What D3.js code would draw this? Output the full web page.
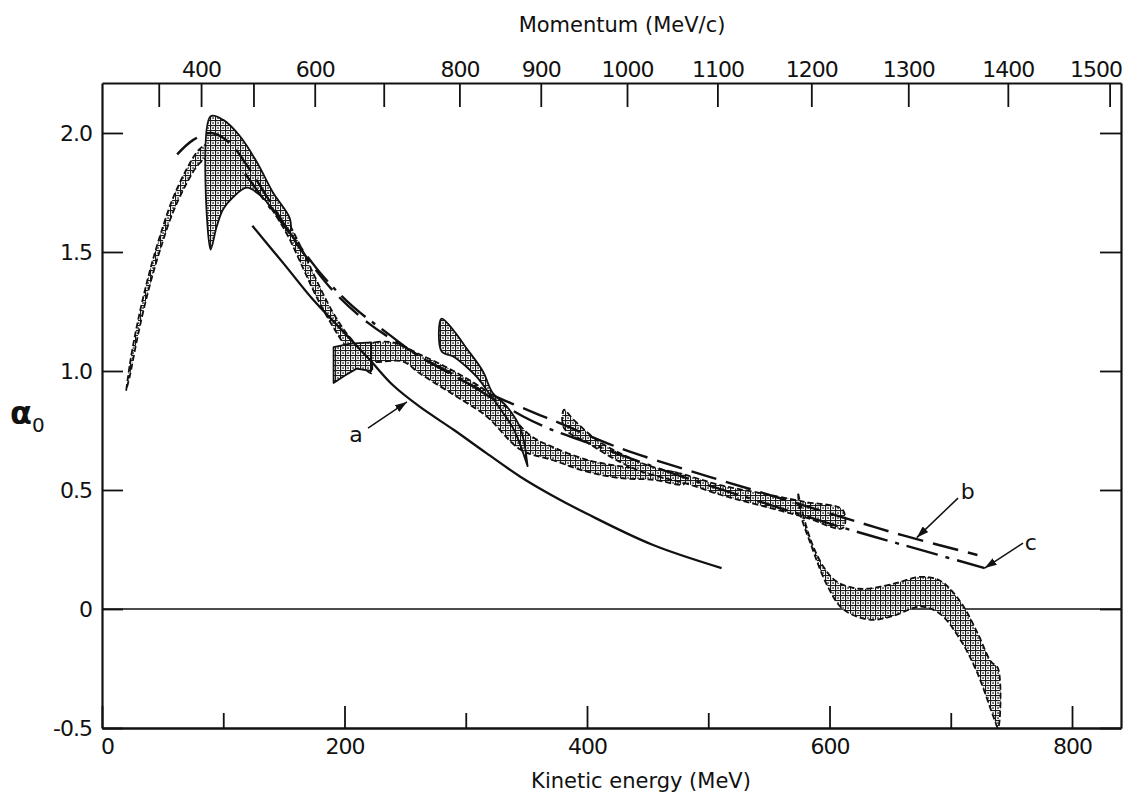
<!DOCTYPE html>
<html>
<head>
<meta charset="utf-8">
<script src="https://cdn.jsdelivr.net/npm/d3@7"></script>
<style>
  body { margin: 0; background: #fff; }
  svg text { font-family: "DejaVu Sans", sans-serif; fill: #111; }
</style>
</head>
<body>
<svg id="chart" width="1132" height="796"></svg>
<script>
// axis ticks
const energyMajor = [0, 200, 400, 600, 800];
const energyMinor = [100, 300, 500, 700];
const momentumTicks = [300, 400, 500, 600, 700, 800, 900, 1000, 1100, 1200, 1300, 1400, 1500];
const momentumLabels = [400, 600, 800, 900, 1000, 1100, 1200, 1300, 1400, 1500];
const alphaTicks = [-0.5, 0, 0.5, 1.0, 1.5, 2.0];
const alphaLabels = ["-0.5", "0", "0.5", "1.0", "1.5", "2.0"];

// curves [kinetic energy MeV, alpha0]
const curveA = [[124, 1.61], [150, 1.45], [174, 1.30], [200, 1.16], [221, 1.046], [240, 0.94],
  [262, 0.85], [290, 0.753], [317, 0.655], [345, 0.556], [372, 0.475], [400, 0.40], [454, 0.27],
  [511, 0.172]];
const curveB = [[62, 1.91], [75, 1.97], [90, 2.0], [105, 1.96], [120, 1.86], [140, 1.70], [160, 1.54],
  [190, 1.34], [220, 1.20], [250, 1.10], [290, 0.98], [317, 0.91], [342, 0.855], [361, 0.815], [378, 0.78],
  [425, 0.68], [482, 0.585], [537, 0.50], [611, 0.385], [660, 0.31], [722, 0.227]];
const curveC = [[118, 1.83], [135, 1.71], [155, 1.58], [182, 1.40], [207, 1.27], [235, 1.16], [262, 1.06],
  [290, 0.985], [322, 0.885], [347, 0.81], [370, 0.755], [400, 0.70], [440, 0.625], [482, 0.55], [537, 0.46],
  [609, 0.345], [660, 0.27], [728, 0.172]];

// error bands: upper edge and lower edge, both by increasing energy
const band1Upper = [[20, 0.92], [23, 1.03], [28, 1.17], [34, 1.31], [41, 1.45], [48, 1.57], [58, 1.72],
  [70, 1.85], [80, 1.93], [89, 1.96], [100, 1.955], [110, 1.92], [120, 1.87], [136, 1.76], [152, 1.64],
  [166, 1.50], [177, 1.38], [190, 1.25], [200, 1.17], [213, 1.09], [222, 1.04]];
const band1Lower = [[20, 0.92], [23, 0.98], [28, 1.11], [34, 1.25], [41, 1.39], [48, 1.51], [58, 1.66],
  [70, 1.79], [80, 1.87], [89, 1.90], [100, 1.89], [110, 1.86], [120, 1.82], [136, 1.71], [152, 1.58],
  [166, 1.43], [177, 1.31], [190, 1.19], [200, 1.11], [213, 1.03], [222, 0.99]];
const hornUpper = [[89.6, 2.07], [100, 2.055], [114, 1.985], [128, 1.875], [141, 1.75], [155, 1.64]];
const hornLower = [[89.6, 1.51], [94.6, 1.607], [100, 1.68], [108, 1.73], [119.5, 1.77], [130, 1.74],
  [141, 1.68], [155, 1.59]];
const wedgeUpper = [[191, 1.10], [205, 1.115], [222, 1.12]];
const wedgeLower = [[191, 0.95], [200, 0.98], [210, 1.01], [222, 1.00]];
const band4Upper = [[213, 1.10], [225, 1.12], [240, 1.12], [262, 1.07], [290, 1.0], [317, 0.915],
  [331, 0.85], [353, 0.73], [372, 0.68], [400, 0.627], [427, 0.60], [455, 0.585], [480, 0.56]];
const band4Lower = [[213, 1.07], [221, 1.04], [248, 1.04], [262, 0.99], [290, 0.90], [317, 0.81],
  [345, 0.67], [372, 0.625], [400, 0.577], [427, 0.55], [455, 0.543], [480, 0.525]];
const band5Upper = [[280, 1.22], [290, 1.17], [300, 1.10], [314, 1.0], [322, 0.91], [334, 0.85],
  [345, 0.76], [351, 0.60]];
const band5Lower = [[280, 1.083], [290, 1.06], [300, 1.02], [310, 0.97], [320, 0.90], [330, 0.83],
  [340, 0.75], [351, 0.60]];
const band6Upper = [[381, 0.837], [389, 0.795], [408, 0.71], [427, 0.655], [452, 0.60], [480, 0.565],
  [510, 0.52], [543, 0.487], [580, 0.45], [611, 0.416]];
const band6Lower = [[381, 0.76], [400, 0.70], [421, 0.635], [441, 0.585], [460, 0.555], [480, 0.53],
  [510, 0.48], [543, 0.435], [580, 0.385], [611, 0.34]];
const band7Upper = [[574, 0.49], [578, 0.40], [586, 0.27], [596, 0.17], [606, 0.115], [625, 0.085],
  [652, 0.105], [675, 0.135], [691, 0.12], [708, 0.03], [722, -0.10], [733, -0.22], [739, -0.25]];
const band7Lower = [[574, 0.49], [576, 0.40], [584, 0.28], [598, 0.10], [611, 0.0], [633, -0.045],
  [652, -0.03], [675, 0.01], [691, -0.02], [708, -0.13], [722, -0.27], [735, -0.45], [739, -0.5]];

// curve labels: [label, text position, arrow tail, arrow tip]
const curveLabels = [
  ["a", [209.5, 0.735], [219.4, 0.76], [251.5, 0.87]],
  ["b", [714, 0.496], [706, 0.466], [672, 0.30]],
  ["c", [766, 0.28], [759.6, 0.277], [728, 0.172]],
];

const protonMass = 938.27;
const kineticFromMomentum = p => Math.sqrt(p * p + protonMass * protonMass) - protonMass;

const svg = d3.select("#chart");
const x = d3.scaleLinear().domain([0, 840.4]).range([102, 1121]);
const y = d3.scaleLinear().domain([-0.5, 2.21]).range([728, 83]);

// stipple fill for the bands: small white cells, dark rims, a dot in each
const defs = svg.append("defs");
const pat = defs.append("pattern").attr("id", "stipple").attr("patternUnits", "userSpaceOnUse")
  .attr("width", 5).attr("height", 5);
pat.append("rect").attr("width", 5).attr("height", 5).attr("fill", "#fff");
pat.append("rect").attr("width", 5).attr("height", 1.1).attr("fill", "#1a1a1a");
pat.append("rect").attr("width", 1.1).attr("height", 5).attr("fill", "#1a1a1a");
pat.append("rect").attr("x", 2.3).attr("y", 2.3).attr("width", 1.5).attr("height", 1.5).attr("fill", "#111");
defs.append("marker").attr("id", "head").attr("viewBox", "0 0 12 8").attr("refX", 12).attr("refY", 4)
  .attr("markerWidth", 12).attr("markerHeight", 8).attr("markerUnits", "userSpaceOnUse")
  .attr("orient", "auto")
  .append("path").attr("d", "M0,0 L12,4 L0,8 Z").attr("fill", "#111");
defs.append("clipPath").attr("id", "frame").append("rect")
  .attr("x", x(0)).attr("y", y(2.21)).attr("width", x(840.4) - x(0)).attr("height", y(-0.5) - y(2.21));

const plot = svg.append("g").attr("clip-path", "url(#frame)");

// zero line
plot.append("line").attr("x1", x(0)).attr("x2", x(840.4)).attr("y1", y(0)).attr("y2", y(0))
  .attr("stroke", "#111").attr("stroke-width", 1.5);

const smoothBand = d3.line().x(d => x(d[0])).y(d => y(d[1])).curve(d3.curveCatmullRomClosed.alpha(0.5));
const sharpBand = d3.line().x(d => x(d[0])).y(d => y(d[1])).curve(d3.curveLinearClosed);
const bands = [
  [band1Upper, band1Lower, smoothBand, "6,3"],
  [band4Upper, band4Lower, smoothBand, "6,3"],
  [band6Upper, band6Lower, smoothBand, "6,3"],
  [band7Upper, band7Lower, smoothBand, "6,3"],
  [hornUpper, hornLower, smoothBand, null],
  [wedgeUpper, wedgeLower, sharpBand, null],
  [band5Upper, band5Lower, smoothBand, null],
];
bands.forEach(([upper, lower, gen, dash]) => {
  plot.append("path")
    .attr("d", gen(upper.concat(lower.slice().reverse())))
    .attr("fill", "url(#stipple)")
    .attr("stroke", "#111")
    .attr("stroke-width", 1.8)
    .attr("stroke-dasharray", dash)
    .attr("stroke-linejoin", "round");
});

const curve = d3.line().x(d => x(d[0])).y(d => y(d[1])).curve(d3.curveCatmullRom.alpha(0.5));
plot.append("path").attr("d", curve(curveA)).attr("fill", "none").attr("stroke", "#111").attr("stroke-width", 2.3);
plot.append("path").attr("d", curve(curveB)).attr("fill", "none").attr("stroke", "#111").attr("stroke-width", 2.4)
  .attr("stroke-dasharray", "26,10");
plot.append("path").attr("d", curve(curveC)).attr("fill", "none").attr("stroke", "#111").attr("stroke-width", 2.4)
  .attr("stroke-dasharray", "32,8,4,8");

// labels with arrows
curveLabels.forEach(([label, pos, tail, tip]) => {
  svg.append("line")
    .attr("x1", x(tail[0])).attr("y1", y(tail[1]))
    .attr("x2", x(tip[0])).attr("y2", y(tip[1]))
    .attr("stroke", "#111").attr("stroke-width", 1.5)
    .attr("marker-end", "url(#head)");
  svg.append("text").attr("x", x(pos[0])).attr("y", y(pos[1])).attr("dy", "0.35em")
    .attr("text-anchor", "middle").style("font-size", "22px").text(label);
});

// axes
const styleAxis = g => {
  g.attr("font-family", null).attr("font-size", null);
  g.select(".domain").attr("stroke", "#111").attr("stroke-width", 2.2);
  g.selectAll(".tick line").attr("stroke", "#111").attr("stroke-width", 1.8);
  g.selectAll(".tick text").style("font-size", "22px").style("letter-spacing", "-1px");
};

svg.append("g").attr("transform", `translate(0,${y(-0.5)})`)
  .call(d3.axisBottom(x).tickValues(energyMinor).tickSize(-15).tickSizeOuter(0).tickFormat(""))
  .call(styleAxis);
const bottomAxis = svg.append("g").attr("transform", `translate(0,${y(-0.5)})`)
  .call(d3.axisBottom(x).tickValues(energyMajor).tickSize(-22).tickSizeOuter(0).tickPadding(10)
    .tickFormat(d3.format("d")))
  .call(styleAxis);
bottomAxis.selectAll(".tick text").filter(d => d === 0).attr("dx", 5);

const topAxis = svg.append("g").attr("transform", `translate(0,${y(2.21)})`)
  .call(d3.axisTop(x).tickValues(momentumTicks.map(kineticFromMomentum)).tickSize(-24).tickSizeOuter(0)
    .tickPadding(6)
    .tickFormat((d, i) => momentumLabels.includes(momentumTicks[i]) ? momentumTicks[i] : ""))
  .call(styleAxis);
topAxis.selectAll(".tick text").filter((d, i) => i === momentumTicks.length - 1)
  .attr("text-anchor", "end").attr("dx", 12);

svg.append("g").attr("transform", `translate(${x(0)},0)`)
  .call(d3.axisLeft(y).tickValues(alphaTicks).tickSize(-21).tickSizeOuter(0).tickPadding(10)
    .tickFormat((d, i) => alphaLabels[i]))
  .call(styleAxis);
svg.append("g").attr("transform", `translate(${x(840.4)},0)`)
  .call(d3.axisRight(y).tickValues(alphaTicks).tickSize(-21).tickSizeOuter(0).tickFormat(""))
  .call(styleAxis);

// titles
svg.append("text").attr("x", 622).attr("y", 32).attr("text-anchor", "middle")
  .style("font-size", "21px").text("Momentum (MeV/c)");
svg.append("text").attr("x", 641).attr("y", 788).attr("text-anchor", "middle")
  .style("font-size", "21px").text("Kinetic energy (MeV)");
const yTitle = svg.append("text").attr("x", 10).attr("y", 424).style("font-size", "32px")
  .style("font-weight", "bold");
yTitle.append("tspan").text("α");
yTitle.append("tspan").attr("dy", 8).style("font-size", "20px").style("font-weight", "normal").text("0");
</script>
</body>
</html>
